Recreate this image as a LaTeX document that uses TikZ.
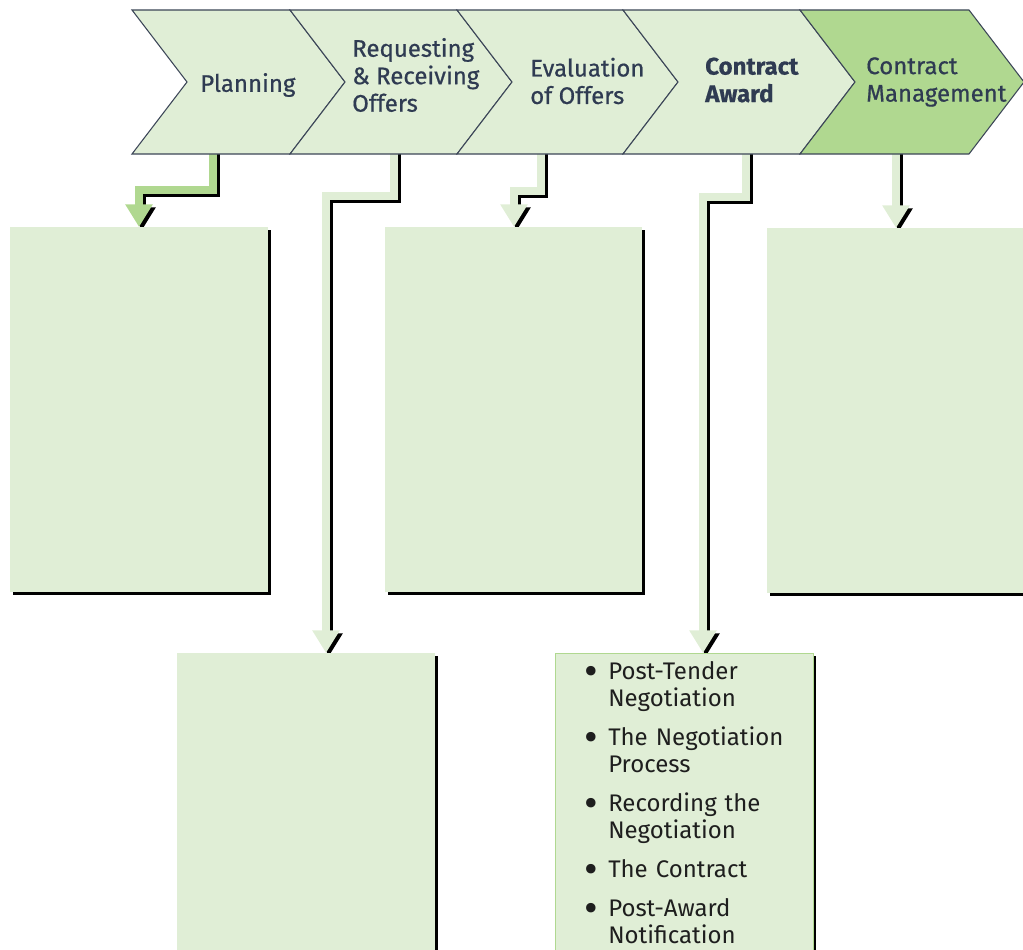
\documentclass[tikz,border=0pt]{standalone}
\usepackage{fontspec}
\setmainfont{Fira Sans}
\newfontfamily\stagefont[FakeBold=0.6]{Fira Sans}
\usepackage{enumitem}
\usetikzlibrary{calc, arrows.meta, shadows}
\definecolor{palegreen}{HTML}{E0EED6}
\definecolor{midgreen}{HTML}{B0D890}
\definecolor{slate}{HTML}{3C4658}
\definecolor{navytext}{HTML}{2F3B52}
\definecolor{listink}{HTML}{1E1E1E}
\tikzstyle{stage}=[draw=slate, line width=0.8pt, fill=palegreen]
\tikzstyle{stagetext}=[anchor=west, align=left, inner sep=0pt, text=navytext, font=\stagefont\fontsize{18}{20.6}\selectfont]
\tikzstyle{box}=[fill=palegreen, inner sep=0pt, minimum width=193.5pt, drop shadow={shadow xshift=2.25pt, shadow yshift=-2.25pt, fill=black, opacity=1}]
\tikzstyle{flow}=[line width=6pt, -{Triangle[width=19.5pt,length=17pt]}]
\tikzstyle{listtext}=[anchor=north west, inner sep=0pt, text width=180pt, text=listink, font=\fontsize{18}{20.3}\selectfont]

\begin{document}
\begin{tikzpicture}[x=0.75pt, y=-0.75pt]
  \useasboundingbox (0,0) rectangle (1023,949);
  \clip (0,0) rectangle (1023,949);

  % where the connectors start and end
  \node (c1) [coordinate] at (213,150) {};
  \node (c2) [coordinate] at (394,150) {};
  \node (c3) [coordinate] at (541,150) {};
  \node (c4) [coordinate] at (746,150) {};
  \node (c5) [coordinate] at (896,150) {};
  \node (t1) [coordinate] at (139,227) {};
  \node (t2) [coordinate] at (326,653) {};
  \node (t3) [coordinate] at (514,227) {};
  \node (t4) [coordinate] at (703,653) {};
  \node (t5) [coordinate] at (896,228) {};

  % black shadow first, then the connector itself
  \begin{scope}[transform canvas={shift={(3,3)}}]
    \draw[flow, draw=black] (c1) -- ++(0,40) -| (t1);
    \draw[flow, draw=black] (c2) -- ++(0,46) -| (t2);
    \draw[flow, draw=black] (c3) -- ++(0,41) -| (t3);
    \draw[flow, draw=black] (c4) -- ++(0,47) -| (t4);
    \draw[flow, draw=black] (c5) -- (t5);
  \end{scope}
  \draw[flow, draw=midgreen] (c1) -- ++(0,40) -| (t1);
  \draw[flow, draw=palegreen] (c2) -- ++(0,46) -| (t2);
  \draw[flow, draw=palegreen] (c3) -- ++(0,41) -| (t3);
  \draw[flow, draw=palegreen] (c4) -- ++(0,47) -| (t4);
  \draw[flow, draw=palegreen] (c5) -- (t5);

  % stages
  \draw[stage] (132,10) -- (290,10) -- (345,82) -- (290,154) -- (132,154) -- (187,82) -- cycle;
  \draw[stage] (290,10) -- (457,10) -- (512,82) -- (457,154) -- (290,154) -- (345,82) -- cycle;
  \draw[stage] (457,10) -- (623,10) -- (678,82) -- (623,154) -- (457,154) -- (512,82) -- cycle;
  \draw[stage] (623,10) -- (800,10) -- (855,82) -- (800,154) -- (623,154) -- (678,82) -- cycle;
  \draw[stage, fill=midgreen] (800,10) -- (969,10) -- (1024,82) -- (969,154) -- (800,154) -- (855,82) -- cycle;

  \node[stagetext] (plan) at (200,85) {Planning};
  \node[stagetext] (req) at (352,75) {Requesting\\\& Receiving\\Offers};
  \node[stagetext] (eval) at (530,81) {Evaluation\\of Offers};
  \node[stagetext] (award) at (705,80) {\textbf{Contract}\\\textbf{Award}};
  \node[stagetext] (mgmt) at (866,82) {Contract\\Management};

  % boxes below the stages
  \node[box, minimum height=273.75pt] (planbox) at (139,409.5) {};
  \node[box, minimum height=260.25pt] (reqbox) at (306,826.5) {};
  \node[box, minimum width=192.75pt, minimum height=273.75pt] (evalbox) at (513.5,409.5) {};
  \node[box, draw=midgreen, line width=0.6pt, minimum height=260.25pt] (awardbox) at (684,826.5) {};
  \node[box, minimum height=273.75pt] (mgmtbox) at (896,410.5) {};

  \node[listtext] (awardlist) at (574,652) {%
    \begin{itemize}[leftmargin=25.5pt, labelsep=8pt, itemsep=9pt, parsep=0pt, topsep=0pt, partopsep=0pt, label={\raisebox{-0.24em}{\scalebox{1.75}{\textbullet}}}]
      \item Post-Tender Negotiation
      \item The Negotiation Process
      \item Recording the Negotiation
      \item The Contract
      \item Post-Award Notification
    \end{itemize}};
\end{tikzpicture}
\end{document}
